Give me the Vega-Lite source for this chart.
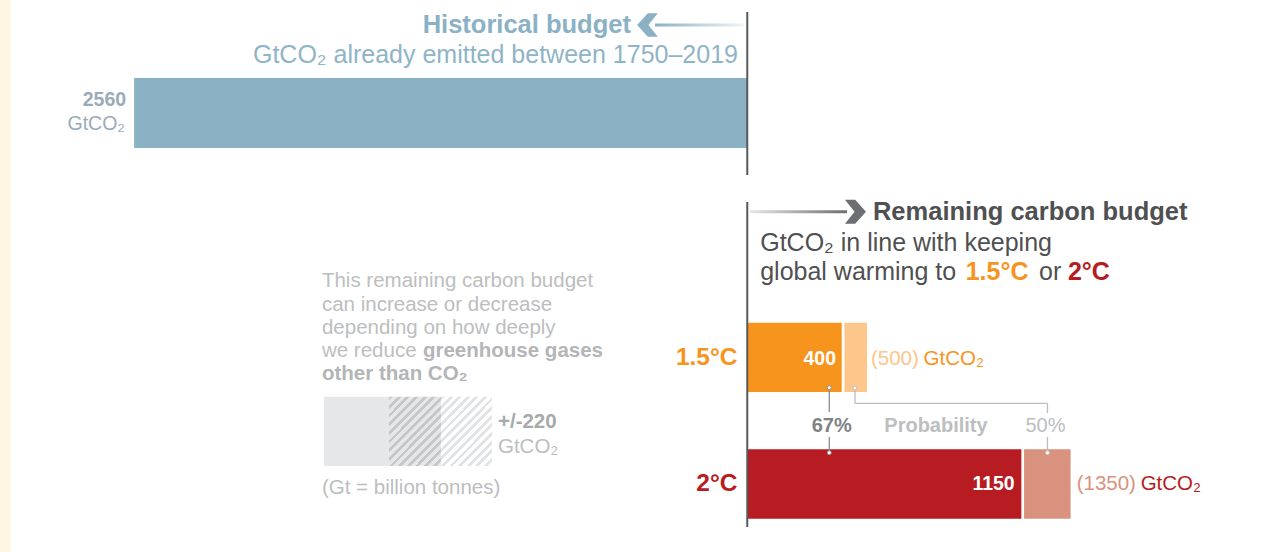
{
  "$schema": "https://vega.github.io/schema/vega-lite/v6.json",
  "width": 1264,
  "height": 552,
  "autosize": {"type": "none"},
  "padding": 0,
  "background": "#FFFFFF",
  "config": {
    "view": {"stroke": null},
    "axis": {"disable": true},
    "legend": {"disable": true},
    "text": {"font": "Liberation Sans"}
  },
  "datasets": {
    "budgets": [
      {"budget": "Historical", "scenario": "Historical", "probability": "", "from": -2560, "to": 0, "value": 2560, "series": "Historical"},
      {"budget": "Remaining", "scenario": "1.5°C", "probability": "50%", "from": 400, "to": 500, "value": 500, "series": "1.5°C 50%"},
      {"budget": "Remaining", "scenario": "1.5°C", "probability": "67%", "from": 0, "to": 400, "value": 400, "series": "1.5°C 67%"},
      {"budget": "Remaining", "scenario": "2°C", "probability": "50%", "from": 1150, "to": 1350, "value": 1350, "series": "2°C 50%"},
      {"budget": "Remaining", "scenario": "2°C", "probability": "67%", "from": 0, "to": 1150, "value": 1150, "series": "2°C 67%"}
    ]
  },
  "data": {"values": [{}]},
  "layer": [
    {
      "mark": {"type": "rect", "color": "#FEF5E2"},
      "encoding": {
        "x": {"datum": -3120, "type": "quantitative", "scale": {"domain": [-3120, 2157.5], "nice": false, "zero": false}, "axis": null},
        "x2": {"datum": -3076},
        "y": {"datum": 0, "type": "quantitative", "scale": {"domain": [0, 552], "nice": false, "zero": false, "reverse": true}, "axis": null},
        "y2": {"datum": 552}
      }
    },
    {
      "data": {"name": "budgets"},
      "transform": [{"filter": "datum.scenario === 'Historical'"}],
      "mark": {"type": "rect"},
      "encoding": {
        "x": {"field": "from", "type": "quantitative"},
        "x2": {"field": "to"},
        "y": {"datum": 78},
        "y2": {"datum": 148},
        "color": {"field": "series", "type": "nominal", "legend": null,
          "scale": {"domain": ["Historical", "1.5°C 67%", "1.5°C 50%", "2°C 67%", "2°C 50%"], "range": ["#8AB1C4", "#F7941D", "#FDC68B", "#B61C22", "#D9927E"]}}
      }
    },
    {
      "data": {"name": "budgets"},
      "transform": [{"filter": "datum.scenario === '1.5°C'"}],
      "mark": {"type": "rect"},
      "encoding": {
        "x": {"field": "from", "type": "quantitative"},
        "x2": {"field": "to"},
        "y": {"datum": 322.7},
        "y2": {"datum": 392},
        "color": {"field": "series", "type": "nominal", "legend": null}
      }
    },
    {
      "data": {"name": "budgets"},
      "transform": [{"filter": "datum.scenario === '2°C'"}],
      "mark": {"type": "rect"},
      "encoding": {
        "x": {"field": "from", "type": "quantitative"},
        "x2": {"field": "to"},
        "y": {"datum": 449.3},
        "y2": {"datum": 518.7},
        "color": {"field": "series", "type": "nominal", "legend": null}
      }
    },
    {
      "mark": {"type": "rule", "color": "#FFFFFF", "strokeWidth": 2.7},
      "encoding": {"x": {"datum": 400}, "y": {"datum": 322}, "y2": {"datum": 393}}
    },
    {
      "mark": {"type": "rule", "color": "#FFFFFF", "strokeWidth": 2.7},
      "encoding": {"x": {"datum": 1150}, "y": {"datum": 449}, "y2": {"datum": 519}}
    },
    {
      "mark": {"type": "rule", "color": "#58595B", "strokeWidth": 2},
      "encoding": {"x": {"datum": 0}, "y": {"datum": 12}, "y2": {"datum": 175}}
    },
    {
      "mark": {"type": "rule", "color": "#58595B", "strokeWidth": 2},
      "encoding": {"x": {"datum": 0}, "y": {"datum": 202}, "y2": {"datum": 527}}
    },
    {
      "mark": {"type": "rect", "color": {"gradient": "linear", "x1": 0, "y1": 0, "x2": 1, "y2": 0, "stops": [{"offset": 0, "color": "#8AB1C4"}, {"offset": 1, "color": "#EEF4F7"}]}},
      "encoding": {"x": {"datum": -385.4}, "x2": {"datum": -13.8}, "y": {"datum": 23.5}, "y2": {"datum": 26.5}}
    },
    {
      "mark": {"type": "point", "shape": "M0.75,-1L-0.1,-1L-1,0L-0.1,1L0.75,1L-0.05,0Z", "filled": true, "size": 560, "color": "#8AB1C4", "opacity": 1, "strokeWidth": 0},
      "encoding": {"x": {"datum": -410.4}, "y": {"datum": 25}}
    },
    {
      "mark": {"type": "rect", "color": {"gradient": "linear", "x1": 0, "y1": 0, "x2": 1, "y2": 0, "stops": [{"offset": 0, "color": "#E6E6E6"}, {"offset": 1, "color": "#6D6E71"}]}},
      "encoding": {"x": {"datum": 11.3}, "x2": {"datum": 416.3}, "y": {"datum": 210.2}, "y2": {"datum": 213.2}}
    },
    {
      "mark": {"type": "point", "shape": "M-0.75,-1L0.1,-1L1,0L0.1,1L-0.75,1L0.05,0Z", "filled": true, "size": 576, "color": "#6D6E71", "opacity": 1, "strokeWidth": 0},
      "encoding": {"x": {"datum": 445.5}, "y": {"datum": 211.7}}
    },
    {
      "mark": {"type": "text", "text": "Historical budget", "align": "right", "baseline": "alphabetic", "fontSize": 25.5, "fontWeight": "bold", "color": "#8AB1C4"},
      "encoding": {"x": {"datum": -485.6}, "y": {"datum": 33}}
    },
    {
      "mark": {"type": "text", "text": "GtCO₂ already emitted between 1750–2019", "align": "right", "baseline": "alphabetic", "fontSize": 25, "color": "#8FB4C7"},
      "encoding": {"x": {"datum": -38.8}, "y": {"datum": 63}}
    },
    {
      "data": {"name": "budgets"},
      "transform": [{"filter": "datum.scenario === 'Historical'"}],
      "mark": {"type": "text", "align": "right", "baseline": "alphabetic", "dx": -8, "fontSize": 19.5, "fontWeight": "bold", "color": "#9AABB8"},
      "encoding": {"x": {"field": "from", "type": "quantitative"}, "y": {"datum": 106}, "text": {"field": "value"}}
    },
    {
      "mark": {"type": "text", "text": "GtCO₂", "align": "right", "baseline": "alphabetic", "fontSize": 19.5, "color": "#9AABB8"},
      "encoding": {"x": {"datum": -2598.4}, "y": {"datum": 130}}
    },
    {
      "mark": {"type": "text", "text": "Remaining carbon budget", "align": "left", "baseline": "alphabetic", "fontSize": 25.5, "fontWeight": "bold", "color": "#4F5052"},
      "encoding": {"x": {"datum": 524.8}, "y": {"datum": 220}}
    },
    {
      "mark": {"type": "text", "text": "GtCO₂ in line with keeping", "align": "left", "baseline": "alphabetic", "fontSize": 25, "color": "#4F5052"},
      "encoding": {"x": {"datum": 54}, "y": {"datum": 251}}
    },
    {
      "mark": {"type": "text", "text": "global warming to", "align": "left", "baseline": "alphabetic", "fontSize": 25, "color": "#4F5052"},
      "encoding": {"x": {"datum": 54}, "y": {"datum": 280}}
    },
    {
      "mark": {"type": "text", "text": "1.5°C", "align": "left", "baseline": "alphabetic", "fontSize": 25, "fontWeight": "bold", "color": "#F7941D"},
      "encoding": {"x": {"datum": 912}, "y": {"datum": 280}}
    },
    {
      "mark": {"type": "text", "text": "or", "align": "left", "baseline": "alphabetic", "fontSize": 25, "color": "#4F5052"},
      "encoding": {"x": {"datum": 1218}, "y": {"datum": 280}}
    },
    {
      "mark": {"type": "text", "text": "2°C", "align": "left", "baseline": "alphabetic", "fontSize": 25, "fontWeight": "bold", "color": "#B61C22"},
      "encoding": {"x": {"datum": 1339}, "y": {"datum": 280}}
    },
    {
      "mark": {"type": "text", "text": "This remaining carbon budget", "align": "left", "baseline": "alphabetic", "fontSize": 20.5, "color": "#BCBEC0"},
      "encoding": {"x": {"datum": -1775.8}, "y": {"datum": 287}}
    },
    {
      "mark": {"type": "text", "text": "can increase or decrease", "align": "left", "baseline": "alphabetic", "fontSize": 20.5, "color": "#BCBEC0"},
      "encoding": {"x": {"datum": -1775.8}, "y": {"datum": 310.5}}
    },
    {
      "mark": {"type": "text", "text": "depending on how deeply", "align": "left", "baseline": "alphabetic", "fontSize": 20.5, "color": "#BCBEC0"},
      "encoding": {"x": {"datum": -1775.8}, "y": {"datum": 333.5}}
    },
    {
      "mark": {"type": "text", "text": "we reduce", "align": "left", "baseline": "alphabetic", "fontSize": 20.5, "color": "#BCBEC0"},
      "encoding": {"x": {"datum": -1775.8}, "y": {"datum": 357}}
    },
    {
      "mark": {"type": "text", "text": "greenhouse gases", "align": "left", "baseline": "alphabetic", "fontSize": 20.5, "fontWeight": "bold", "color": "#B3B5B7"},
      "encoding": {"x": {"datum": -1354}, "y": {"datum": 357}}
    },
    {
      "mark": {"type": "text", "text": "other than CO₂", "align": "left", "baseline": "alphabetic", "fontSize": 20.5, "fontWeight": "bold", "color": "#B3B5B7"},
      "encoding": {"x": {"datum": -1775.8}, "y": {"datum": 380}}
    },
    {
      "mark": {"type": "rect", "color": "#E6E7E8"},
      "encoding": {"x": {"datum": -1767.4}, "x2": {"datum": -1496.0}, "y": {"datum": 396.7}, "y2": {"datum": 466}}
    },
    {
      "mark": {"type": "rect", "color": {"gradient": "linear", "x1": 0, "y1": 0, "x2": 0.843, "y2": 1.118, "stops": [
        {"offset": 0, "color": "#C6C7C9"}, {"offset": 0.0321, "color": "#C6C7C9"}, {"offset": 0.0321, "color": "#E6E7E8"}, {"offset": 0.0714, "color": "#E6E7E8"},
        {"offset": 0.0714, "color": "#C6C7C9"}, {"offset": 0.1036, "color": "#C6C7C9"}, {"offset": 0.1036, "color": "#E6E7E8"}, {"offset": 0.1429, "color": "#E6E7E8"},
        {"offset": 0.1429, "color": "#C6C7C9"}, {"offset": 0.175, "color": "#C6C7C9"}, {"offset": 0.175, "color": "#E6E7E8"}, {"offset": 0.2143, "color": "#E6E7E8"},
        {"offset": 0.2143, "color": "#C6C7C9"}, {"offset": 0.2464, "color": "#C6C7C9"}, {"offset": 0.2464, "color": "#E6E7E8"}, {"offset": 0.2857, "color": "#E6E7E8"},
        {"offset": 0.2857, "color": "#C6C7C9"}, {"offset": 0.3179, "color": "#C6C7C9"}, {"offset": 0.3179, "color": "#E6E7E8"}, {"offset": 0.3571, "color": "#E6E7E8"},
        {"offset": 0.3571, "color": "#C6C7C9"}, {"offset": 0.3893, "color": "#C6C7C9"}, {"offset": 0.3893, "color": "#E6E7E8"}, {"offset": 0.4286, "color": "#E6E7E8"},
        {"offset": 0.4286, "color": "#C6C7C9"}, {"offset": 0.4607, "color": "#C6C7C9"}, {"offset": 0.4607, "color": "#E6E7E8"}, {"offset": 0.5, "color": "#E6E7E8"},
        {"offset": 0.5, "color": "#C6C7C9"}, {"offset": 0.5321, "color": "#C6C7C9"}, {"offset": 0.5321, "color": "#E6E7E8"}, {"offset": 0.5714, "color": "#E6E7E8"},
        {"offset": 0.5714, "color": "#C6C7C9"}, {"offset": 0.6036, "color": "#C6C7C9"}, {"offset": 0.6036, "color": "#E6E7E8"}, {"offset": 0.6429, "color": "#E6E7E8"},
        {"offset": 0.6429, "color": "#C6C7C9"}, {"offset": 0.675, "color": "#C6C7C9"}, {"offset": 0.675, "color": "#E6E7E8"}, {"offset": 0.7143, "color": "#E6E7E8"},
        {"offset": 0.7143, "color": "#C6C7C9"}, {"offset": 0.7464, "color": "#C6C7C9"}, {"offset": 0.7464, "color": "#E6E7E8"}, {"offset": 0.7857, "color": "#E6E7E8"},
        {"offset": 0.7857, "color": "#C6C7C9"}, {"offset": 0.8179, "color": "#C6C7C9"}, {"offset": 0.8179, "color": "#E6E7E8"}, {"offset": 0.8571, "color": "#E6E7E8"},
        {"offset": 0.8571, "color": "#C6C7C9"}, {"offset": 0.8893, "color": "#C6C7C9"}, {"offset": 0.8893, "color": "#E6E7E8"}, {"offset": 0.9286, "color": "#E6E7E8"},
        {"offset": 0.9286, "color": "#C6C7C9"}, {"offset": 0.9607, "color": "#C6C7C9"}, {"offset": 0.9607, "color": "#E6E7E8"}, {"offset": 1, "color": "#E6E7E8"}
      ]}},
      "encoding": {"x": {"datum": -1496.0}, "x2": {"datum": -1278.9}, "y": {"datum": 396.7}, "y2": {"datum": 466}}
    },
    {
      "mark": {"type": "rect", "color": {"gradient": "linear", "x1": 0, "y1": 0, "x2": 0.831, "y2": 1.125, "stops": [
        {"offset": 0, "color": "#E2E3E4"}, {"offset": 0.0321, "color": "#E2E3E4"}, {"offset": 0.0321, "color": "#FFFFFF"}, {"offset": 0.0714, "color": "#FFFFFF"},
        {"offset": 0.0714, "color": "#E2E3E4"}, {"offset": 0.1036, "color": "#E2E3E4"}, {"offset": 0.1036, "color": "#FFFFFF"}, {"offset": 0.1429, "color": "#FFFFFF"},
        {"offset": 0.1429, "color": "#E2E3E4"}, {"offset": 0.175, "color": "#E2E3E4"}, {"offset": 0.175, "color": "#FFFFFF"}, {"offset": 0.2143, "color": "#FFFFFF"},
        {"offset": 0.2143, "color": "#E2E3E4"}, {"offset": 0.2464, "color": "#E2E3E4"}, {"offset": 0.2464, "color": "#FFFFFF"}, {"offset": 0.2857, "color": "#FFFFFF"},
        {"offset": 0.2857, "color": "#E2E3E4"}, {"offset": 0.3179, "color": "#E2E3E4"}, {"offset": 0.3179, "color": "#FFFFFF"}, {"offset": 0.3571, "color": "#FFFFFF"},
        {"offset": 0.3571, "color": "#E2E3E4"}, {"offset": 0.3893, "color": "#E2E3E4"}, {"offset": 0.3893, "color": "#FFFFFF"}, {"offset": 0.4286, "color": "#FFFFFF"},
        {"offset": 0.4286, "color": "#E2E3E4"}, {"offset": 0.4607, "color": "#E2E3E4"}, {"offset": 0.4607, "color": "#FFFFFF"}, {"offset": 0.5, "color": "#FFFFFF"},
        {"offset": 0.5, "color": "#E2E3E4"}, {"offset": 0.5321, "color": "#E2E3E4"}, {"offset": 0.5321, "color": "#FFFFFF"}, {"offset": 0.5714, "color": "#FFFFFF"},
        {"offset": 0.5714, "color": "#E2E3E4"}, {"offset": 0.6036, "color": "#E2E3E4"}, {"offset": 0.6036, "color": "#FFFFFF"}, {"offset": 0.6429, "color": "#FFFFFF"},
        {"offset": 0.6429, "color": "#E2E3E4"}, {"offset": 0.675, "color": "#E2E3E4"}, {"offset": 0.675, "color": "#FFFFFF"}, {"offset": 0.7143, "color": "#FFFFFF"},
        {"offset": 0.7143, "color": "#E2E3E4"}, {"offset": 0.7464, "color": "#E2E3E4"}, {"offset": 0.7464, "color": "#FFFFFF"}, {"offset": 0.7857, "color": "#FFFFFF"},
        {"offset": 0.7857, "color": "#E2E3E4"}, {"offset": 0.8179, "color": "#E2E3E4"}, {"offset": 0.8179, "color": "#FFFFFF"}, {"offset": 0.8571, "color": "#FFFFFF"},
        {"offset": 0.8571, "color": "#E2E3E4"}, {"offset": 0.8893, "color": "#E2E3E4"}, {"offset": 0.8893, "color": "#FFFFFF"}, {"offset": 0.9286, "color": "#FFFFFF"},
        {"offset": 0.9286, "color": "#E2E3E4"}, {"offset": 0.9607, "color": "#E2E3E4"}, {"offset": 0.9607, "color": "#FFFFFF"}, {"offset": 1, "color": "#FFFFFF"}
      ]}},
      "encoding": {"x": {"datum": -1278.9}, "x2": {"datum": -1066.0}, "y": {"datum": 396.7}, "y2": {"datum": 466}}
    },
    {
      "mark": {"type": "text", "text": "+/-220", "align": "left", "baseline": "alphabetic", "fontSize": 20.5, "fontWeight": "bold", "color": "#A7A9AC"},
      "encoding": {"x": {"datum": -1040.9}, "y": {"datum": 428.3}}
    },
    {
      "mark": {"type": "text", "text": "GtCO₂", "align": "left", "baseline": "alphabetic", "fontSize": 20.5, "color": "#BCBEC0"},
      "encoding": {"x": {"datum": -1040.9}, "y": {"datum": 453}}
    },
    {
      "mark": {"type": "text", "text": "(Gt = billion tonnes)", "align": "left", "baseline": "alphabetic", "fontSize": 20.5, "color": "#BCBEC0"},
      "encoding": {"x": {"datum": -1775.8}, "y": {"datum": 494}}
    },
    {
      "mark": {"type": "text", "text": "1.5°C", "align": "right", "baseline": "alphabetic", "fontSize": 24.5, "fontWeight": "bold", "color": "#F7941D"},
      "encoding": {"x": {"datum": -40.9}, "y": {"datum": 365}}
    },
    {
      "mark": {"type": "text", "text": "2°C", "align": "right", "baseline": "alphabetic", "fontSize": 24.5, "fontWeight": "bold", "color": "#B61C22"},
      "encoding": {"x": {"datum": -40.9}, "y": {"datum": 491}}
    },
    {
      "data": {"name": "budgets"},
      "transform": [{"filter": "datum.scenario === '1.5°C' && datum.probability === '67%'"}],
      "mark": {"type": "text", "align": "right", "baseline": "alphabetic", "dx": -7, "fontSize": 19.5, "fontWeight": "bold", "color": "#FFFFFF"},
      "encoding": {"x": {"field": "to", "type": "quantitative"}, "y": {"datum": 364.5}, "text": {"field": "value"}}
    },
    {
      "data": {"name": "budgets"},
      "transform": [{"filter": "datum.scenario === '2°C' && datum.probability === '67%'"}],
      "mark": {"type": "text", "align": "right", "baseline": "alphabetic", "dx": -8, "fontSize": 19.5, "fontWeight": "bold", "color": "#FFFFFF"},
      "encoding": {"x": {"field": "to", "type": "quantitative"}, "y": {"datum": 490}, "text": {"field": "value"}}
    },
    {
      "mark": {"type": "text", "text": "(500)", "align": "left", "baseline": "alphabetic", "fontSize": 20.5, "color": "#FDC68B"},
      "encoding": {"x": {"datum": 516.5}, "y": {"datum": 365}}
    },
    {
      "mark": {"type": "text", "text": "GtCO₂", "align": "left", "baseline": "alphabetic", "fontSize": 20.5, "color": "#F7941D"},
      "encoding": {"x": {"datum": 736}, "y": {"datum": 365}}
    },
    {
      "mark": {"type": "text", "text": "(1350)", "align": "left", "baseline": "alphabetic", "fontSize": 20.5, "color": "#D9927E"},
      "encoding": {"x": {"datum": 1375.4}, "y": {"datum": 490}}
    },
    {
      "mark": {"type": "text", "text": "GtCO₂", "align": "left", "baseline": "alphabetic", "fontSize": 20.5, "color": "#B61C22"},
      "encoding": {"x": {"datum": 1642.6}, "y": {"datum": 490}}
    },
    {
      "mark": {"type": "text", "text": "67%", "align": "center", "baseline": "alphabetic", "fontSize": 20, "fontWeight": "bold", "color": "#808285"},
      "encoding": {"x": {"datum": 352.4}, "y": {"datum": 431.7}}
    },
    {
      "mark": {"type": "text", "text": "Probability", "align": "center", "baseline": "alphabetic", "fontSize": 20, "fontWeight": "bold", "color": "#BCBEC0"},
      "encoding": {"x": {"datum": 787.9}, "y": {"datum": 431.7}}
    },
    {
      "mark": {"type": "text", "text": "50%", "align": "center", "baseline": "alphabetic", "fontSize": 20, "color": "#BCBEC0"},
      "encoding": {"x": {"datum": 1245.1}, "y": {"datum": 431.7}}
    },
    {
      "mark": {"type": "rule", "color": "#8C8C8C", "strokeWidth": 1.3},
      "encoding": {"x": {"datum": 342.4}, "y": {"datum": 387.7}, "y2": {"datum": 412}}
    },
    {
      "mark": {"type": "rule", "color": "#8C8C8C", "strokeWidth": 1.3},
      "encoding": {"x": {"datum": 342.4}, "y": {"datum": 437}, "y2": {"datum": 452.7}}
    },
    {
      "mark": {"type": "rule", "color": "#BDBDBD", "strokeWidth": 1.3},
      "encoding": {"x": {"datum": 449.7}, "y": {"datum": 388}, "y2": {"datum": 403.3}}
    },
    {
      "mark": {"type": "rule", "color": "#BDBDBD", "strokeWidth": 1.3},
      "encoding": {"x": {"datum": 449.7}, "x2": {"datum": 1253.4}, "y": {"datum": 403.3}}
    },
    {
      "mark": {"type": "rule", "color": "#BDBDBD", "strokeWidth": 1.3},
      "encoding": {"x": {"datum": 1253.4}, "y": {"datum": 403.3}, "y2": {"datum": 413}}
    },
    {
      "mark": {"type": "rule", "color": "#BDBDBD", "strokeWidth": 1.3},
      "encoding": {"x": {"datum": 1253.4}, "y": {"datum": 437}, "y2": {"datum": 452.7}}
    },
    {
      "mark": {"type": "point", "shape": "circle", "filled": true, "size": 16, "fill": "#FFFFFF", "stroke": "#8C8C8C", "strokeWidth": 1, "opacity": 1},
      "encoding": {"x": {"datum": 342.4}, "y": {"datum": 387.7}}
    },
    {
      "mark": {"type": "point", "shape": "circle", "filled": true, "size": 16, "fill": "#FFFFFF", "stroke": "#8C8C8C", "strokeWidth": 1, "opacity": 1},
      "encoding": {"x": {"datum": 342.4}, "y": {"datum": 452.7}}
    },
    {
      "mark": {"type": "point", "shape": "circle", "filled": true, "size": 16, "fill": "#FFFFFF", "stroke": "#BDBDBD", "strokeWidth": 1, "opacity": 1},
      "encoding": {"x": {"datum": 449.7}, "y": {"datum": 388}}
    },
    {
      "mark": {"type": "point", "shape": "circle", "filled": true, "size": 16, "fill": "#FFFFFF", "stroke": "#BDBDBD", "strokeWidth": 1, "opacity": 1},
      "encoding": {"x": {"datum": 1253.4}, "y": {"datum": 452.7}}
    }
  ]
}
